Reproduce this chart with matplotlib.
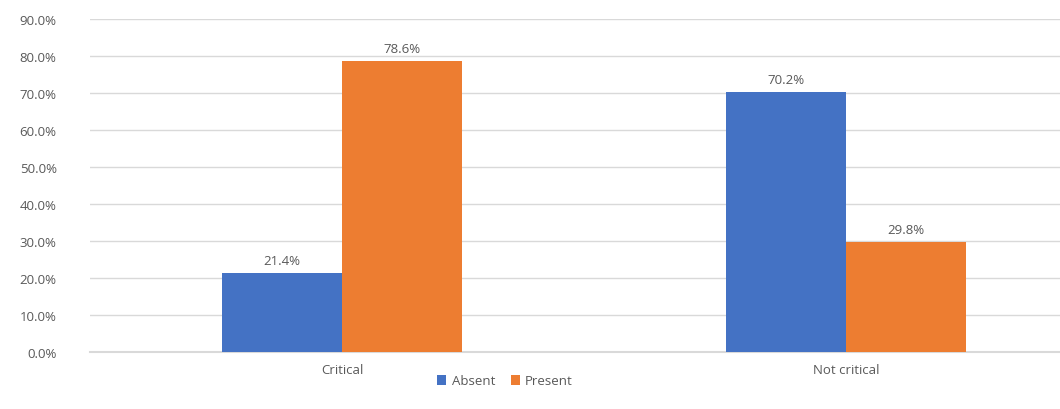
import numpy as np
import matplotlib
matplotlib.use('Agg')
import matplotlib.pyplot as plt
from matplotlib.ticker import PercentFormatter

categories = ['Critical', 'Not critical']
absent = [21.4, 70.2]
present = [78.6, 29.8]

BLUE = '#4472C4'
ORANGE = '#ED7D31'
TEXT = '#595959'

plt.rcParams['font.family'] = ['Open Sans', 'DejaVu Sans']

fig = plt.figure(figsize=(10.6, 4.1), dpi=100)
ax = fig.add_axes([90 / 1060, 57 / 410, 1 - 90 / 1060, 333 / 410])

x = np.arange(len(categories))
w = 0.238
b1 = ax.bar(x - w / 2, absent, w, color=BLUE, label='Absent', zorder=3)
b2 = ax.bar(x + w / 2, present, w, color=ORANGE, label='Present', zorder=3)

for bars, vals in ((b1, absent), (b2, present)):
    for rect, v in zip(bars, vals):
        ax.text(rect.get_x() + rect.get_width() / 2, v + 1.6, f'{v:.1f}%',
                ha='center', va='bottom', fontsize=9.5, color=TEXT)

ax.set_xlim(-0.5, 1.425)
ax.set_ylim(0, 90)
ax.set_yticks(np.arange(0, 91, 10))
ax.yaxis.set_major_formatter(PercentFormatter(decimals=1))
ax.set_xticks(x)
ax.set_xticklabels(categories)
ax.tick_params(axis='both', length=0, colors=TEXT, labelsize=9.5)
ax.tick_params(axis='y', pad=24)
ax.tick_params(axis='x', pad=8)
ax.grid(axis='y', color='#D9D9D9', linewidth=1, zorder=0)
ax.axhline(0, color='#D9D9D9', linewidth=1.5, zorder=2, clip_on=False)
for s in ax.spines.values():
    s.set_visible(False)

handles, labels = ax.get_legend_handles_labels()
fig.legend(handles, labels, loc='center', bbox_to_anchor=(505 / 1060, 1 - 382 / 410),
           ncol=2, frameon=False, fontsize=9.5, handlelength=0.7, handleheight=0.7,
           handletextpad=0.4, columnspacing=1.2, labelcolor=TEXT)

fig.savefig('out.png', dpi=100)
